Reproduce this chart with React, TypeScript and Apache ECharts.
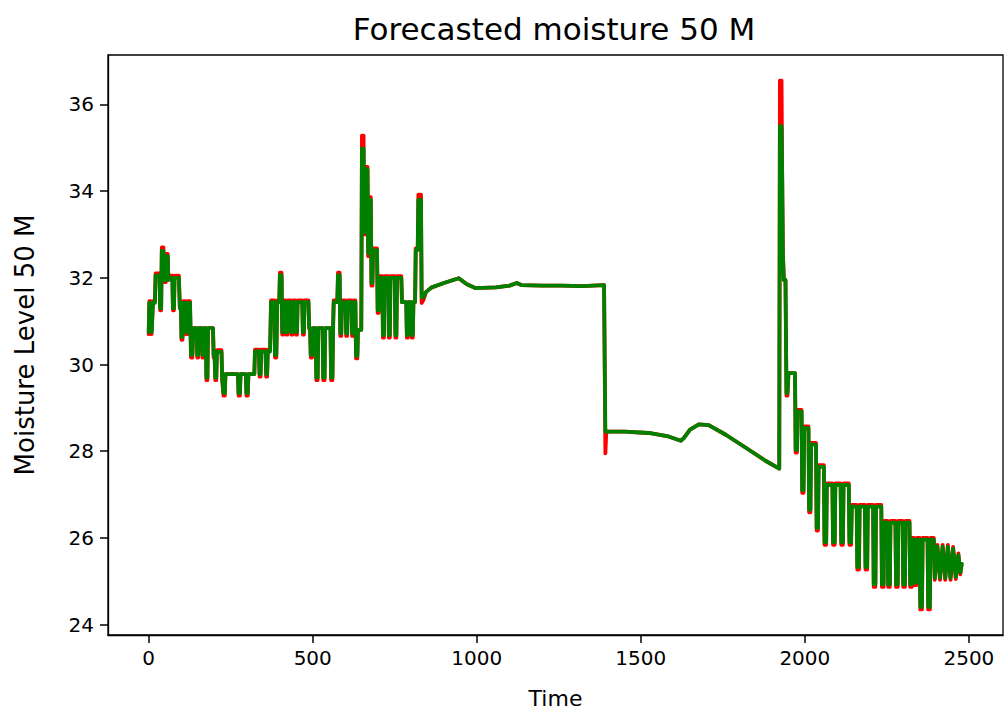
import React, { useEffect, useRef } from "react";
import * as echarts from "echarts";

const chartTitle = "Forecasted moisture 50 M";
const xName = "Time";
const yName = "Moisture Level 50 M";
const xTicks = [0, 500, 1000, 1500, 2000, 2500];
const yTicks = [24, 26, 28, 30, 32, 34, 36];

// actual values (red)
const actual: [number, number][] = [
  [0,30.7],[2,31.46],[7,31.46],[9,30.7],[11,30.7],[13,31.46],[19,31.46],[21,32.1],[33,32.1],[35,31.25],[38,31.25],[40,32.7],[45,32.7],[47,31.9],[52,31.9],[54,32.55],[58,32.55],[60,31.95],[66,32.05],[72,32.05],[74,31.25],[77,31.25],[79,32.05],[92,32.05],[95,31.3],[98,31.42],[100,30.57],[103,30.57],[105,31.46],[112,31.46],[114,30.7],[117,30.7],[119,31.46],[126,31.46],[129,30.16],[133,30.16],[136,30.84],[146,30.84],[148,30.16],[151,30.16],[153,30.84],[162,30.84],[164,30.16],[167,30.16],[169,30.84],[174,30.84],[176,29.64],[179,29.64],[181,30.84],[196,30.84],[198,30.16],[201,30.16],[203,29.64],[206,29.64],[208,30.33],[222,30.33],[224,29.64],[226,29.64],[228,29.28],[232,29.28],[234,29.78],[272,29.78],[274,29.28],[278,29.28],[280,29.78],[296,29.78],[298,29.28],[302,29.28],[304,29.78],[322,29.78],[324,30.34],[336,30.34],[338,29.72],[341,29.72],[343,30.34],[356,30.34],[358,29.72],[361,29.72],[363,30.34],[370,30.34],[373,31.48],[383,31.48],[385,30.16],[389,30.16],[392,31.48],[398,31.48],[400,32.12],[405,32.12],[407,30.69],[410,30.69],[412,31.48],[418,31.48],[420,30.69],[423,30.69],[425,31.48],[433,31.48],[435,30.69],[438,30.69],[440,31.48],[447,31.48],[449,30.69],[452,30.69],[454,31.48],[468,31.48],[470,30.69],[473,30.69],[475,31.48],[487,31.48],[489,30.84],[492,30.84],[494,30.16],[498,30.16],[500,30.84],[509,30.84],[511,29.64],[515,29.64],[517,30.84],[530,30.84],[532,29.64],[536,29.64],[538,30.84],[554,30.84],[556,29.64],[560,29.64],[562,30.84],[564,31.48],[575,31.48],[577,32.12],[582,32.12],[584,30.66],[587,30.66],[589,31.48],[600,31.48],[602,30.66],[605,30.66],[607,31.48],[618,31.48],[620,30.66],[623,30.66],[625,31.48],[630,31.48],[632,30.14],[636,30.14],[638,30.8],[648,30.8],[650,35.28],[655,35.28],[657,33.0],[660,33.0],[662,34.56],[667,34.56],[669,32.5],[671,32.5],[673,33.86],[677,33.86],[679,31.82],[682,31.82],[684,32.68],[696,32.68],[698,31.19],[701,31.19],[703,32.04],[712,32.04],[714,30.62],[717,30.62],[719,32.04],[730,32.04],[732,30.62],[735,30.62],[737,32.04],[750,32.04],[752,30.62],[755,30.62],[757,32.04],[770,32.04],[772,31.44],[785,31.44],[787,30.62],[790,30.62],[792,31.44],[800,31.44],[802,30.62],[805,30.62],[807,31.44],[812,31.44],[814,32.68],[820,32.68],[822,33.92],[830,33.92],[832,31.42],[838,31.5],[845,31.67],[863,31.78],[900,31.88],[945,31.99],[970,31.85],[997,31.76],[1058,31.78],[1100,31.82],[1122,31.88],[1137,31.83],[1200,31.82],[1259,31.82],[1320,31.81],[1388,31.83],[1392,27.95],[1395,28.45],[1450,28.45],[1524,28.42],[1580,28.35],[1622,28.24],[1631,28.3],[1650,28.5],[1677,28.62],[1707,28.6],[1759,28.38],[1820,28.08],[1880,27.78],[1922,27.6],[1924,36.55],[1929,36.55],[1931,34.3],[1933,32.62],[1936,31.95],[1941,31.95],[1944,29.28],[1947,29.28],[1950,29.8],[1970,29.8],[1972,27.97],[1976,27.97],[1978,28.95],[1990,28.95],[1992,27.04],[1996,27.04],[1998,28.57],[2011,28.57],[2013,26.59],[2017,26.59],[2019,28.19],[2034,28.19],[2036,26.17],[2040,26.17],[2042,27.68],[2058,27.68],[2060,25.84],[2065,25.84],[2067,27.26],[2084,27.26],[2086,25.84],[2091,25.84],[2093,27.26],[2109,27.26],[2111,25.84],[2116,25.84],[2118,27.26],[2134,27.26],[2136,25.84],[2141,25.84],[2143,26.76],[2158,26.76],[2160,25.27],[2165,25.27],[2167,26.76],[2183,26.76],[2185,25.27],[2190,25.27],[2192,26.76],[2208,26.76],[2210,24.87],[2215,24.87],[2217,26.76],[2233,26.76],[2235,24.87],[2240,24.87],[2242,26.39],[2252,26.39],[2254,24.87],[2259,24.87],[2261,26.39],[2276,26.39],[2278,24.87],[2283,24.87],[2285,26.39],[2298,26.39],[2300,24.87],[2305,24.87],[2307,26.39],[2319,26.39],[2321,24.87],[2326,24.87],[2328,26.0],[2333,26.0],[2335,24.91],[2340,24.91],[2342,26.0],[2350,26.0],[2352,24.35],[2357,24.35],[2359,26.0],[2374,26.0],[2376,24.35],[2381,24.35],[2383,26.0],[2393,26.0],[2396,25.03],[2404,25.84],[2412,25.03],[2420,25.84],[2428,25.03],[2436,25.84],[2444,25.03],[2452,25.79],[2460,25.05],[2468,25.64],[2474,25.16],[2478,25.4]
];

// forecast values (green)
const forecast: [number, number][] = [
  [0,30.75],[2,31.42],[7,31.42],[9,30.75],[11,30.75],[13,31.42],[19,31.42],[21,32.05],[33,32.05],[35,31.3],[38,31.3],[40,32.62],[45,32.62],[47,31.95],[52,31.95],[54,32.5],[58,32.5],[60,31.95],[66,32.0],[72,32.0],[74,31.3],[77,31.3],[79,32.0],[92,32.0],[95,31.3],[98,31.42],[100,30.63],[103,30.63],[105,31.42],[112,31.42],[114,30.75],[117,30.75],[119,31.42],[126,31.42],[129,30.22],[133,30.22],[136,30.84],[146,30.84],[148,30.22],[151,30.22],[153,30.84],[162,30.84],[164,30.22],[167,30.22],[169,30.84],[174,30.84],[176,29.7],[179,29.7],[181,30.84],[196,30.84],[198,30.22],[201,30.22],[203,29.7],[206,29.7],[208,30.29],[222,30.29],[224,29.7],[226,29.7],[228,29.34],[232,29.34],[234,29.78],[272,29.78],[274,29.34],[278,29.34],[280,29.78],[296,29.78],[298,29.34],[302,29.34],[304,29.78],[322,29.78],[324,30.3],[336,30.3],[338,29.78],[341,29.78],[343,30.3],[356,30.3],[358,29.78],[361,29.78],[363,30.3],[370,30.3],[373,31.44],[383,31.44],[385,30.22],[389,30.22],[392,31.44],[398,31.44],[400,32.06],[405,32.06],[407,30.75],[410,30.75],[412,31.44],[418,31.44],[420,30.75],[423,30.75],[425,31.44],[433,31.44],[435,30.75],[438,30.75],[440,31.44],[447,31.44],[449,30.75],[452,30.75],[454,31.44],[468,31.44],[470,30.75],[473,30.75],[475,31.44],[487,31.44],[489,30.84],[492,30.84],[494,30.22],[498,30.22],[500,30.84],[509,30.84],[511,29.7],[515,29.7],[517,30.84],[530,30.84],[532,29.7],[536,29.7],[538,30.84],[554,30.84],[556,29.7],[560,29.7],[562,30.84],[564,31.44],[575,31.44],[577,32.06],[582,32.06],[584,30.72],[587,30.72],[589,31.44],[600,31.44],[602,30.72],[605,30.72],[607,31.44],[618,31.44],[620,30.72],[623,30.72],[625,31.44],[630,31.44],[632,30.2],[636,30.2],[638,30.8],[648,30.8],[650,34.98],[655,34.98],[657,33.05],[660,33.05],[662,34.5],[667,34.5],[669,32.57],[671,32.57],[673,33.8],[677,33.8],[679,31.88],[682,31.88],[684,32.64],[696,32.64],[698,31.25],[701,31.25],[703,32.0],[712,32.0],[714,30.68],[717,30.68],[719,32.0],[730,32.0],[732,30.68],[735,30.68],[737,32.0],[750,32.0],[752,30.68],[755,30.68],[757,32.0],[770,32.0],[772,31.44],[785,31.44],[787,30.68],[790,30.68],[792,31.44],[800,31.44],[802,30.68],[805,30.68],[807,31.44],[812,31.44],[814,32.64],[820,32.64],[822,33.8],[830,33.8],[832,31.55],[838,31.55],[845,31.67],[863,31.78],[900,31.88],[945,31.99],[970,31.85],[997,31.76],[1058,31.78],[1100,31.82],[1122,31.88],[1137,31.83],[1200,31.82],[1259,31.82],[1320,31.81],[1388,31.83],[1392,28.45],[1450,28.45],[1524,28.42],[1580,28.35],[1622,28.24],[1631,28.3],[1650,28.5],[1677,28.62],[1707,28.6],[1759,28.38],[1820,28.08],[1880,27.78],[1922,27.6],[1924,35.5],[1929,35.5],[1931,34.3],[1933,32.57],[1936,31.95],[1941,31.95],[1944,29.34],[1947,29.34],[1950,29.8],[1970,29.8],[1972,28.03],[1976,28.03],[1978,28.91],[1990,28.91],[1992,27.1],[1996,27.1],[1998,28.53],[2011,28.53],[2013,26.65],[2017,26.65],[2019,28.15],[2034,28.15],[2036,26.23],[2040,26.23],[2042,27.64],[2058,27.64],[2060,25.9],[2065,25.9],[2067,27.22],[2084,27.22],[2086,25.9],[2091,25.9],[2093,27.22],[2109,27.22],[2111,25.9],[2116,25.9],[2118,27.22],[2134,27.22],[2136,25.9],[2141,25.9],[2143,26.72],[2158,26.72],[2160,25.33],[2165,25.33],[2167,26.72],[2183,26.72],[2185,25.33],[2190,25.33],[2192,26.72],[2208,26.72],[2210,24.93],[2215,24.93],[2217,26.72],[2233,26.72],[2235,24.93],[2240,24.93],[2242,26.35],[2252,26.35],[2254,24.93],[2259,24.93],[2261,26.35],[2276,26.35],[2278,24.93],[2283,24.93],[2285,26.35],[2298,26.35],[2300,24.93],[2305,24.93],[2307,26.35],[2319,26.35],[2321,24.93],[2326,24.93],[2328,25.96],[2333,25.96],[2335,24.97],[2340,24.97],[2342,25.96],[2350,25.96],[2352,24.41],[2357,24.41],[2359,25.96],[2374,25.96],[2376,24.41],[2381,24.41],[2383,25.96],[2393,25.96],[2396,25.08],[2404,25.8],[2412,25.08],[2420,25.8],[2428,25.08],[2436,25.8],[2444,25.08],[2452,25.75],[2460,25.1],[2468,25.6],[2474,25.2],[2478,25.4]
];

const FONT = "'DejaVu Sans', sans-serif";

export default function App() {
  const ref = useRef<HTMLDivElement>(null);
  useEffect(() => {
    const chart = echarts.init(ref.current!, null, { renderer: "svg" });
    chart.setOption({
      animation: false,
      backgroundColor: "#ffffff",
      graphic: [
        {
          type: "text",
          x: 554,
          y: 29,
          style: {
            text: chartTitle,
            align: "center",
            verticalAlign: "middle",
            fontFamily: FONT,
            fontSize: 31,
            fill: "#000",
          },
        },
      ],
      grid: {
        left: 108,
        right: 3,
        top: 55,
        bottom: 85,
        show: true,
        borderColor: "#000",
        borderWidth: 1.3,
        backgroundColor: "transparent",
      },
      xAxis: {
        type: "value",
        min: -124,
        max: 2604,
        name: xName,
        nameLocation: "middle",
        nameGap: 52,
        nameTextStyle: { fontFamily: FONT, fontSize: 22, color: "#000" },
        axisLine: { show: true, onZero: false, lineStyle: { color: "#000", width: 1.3 } },
        splitLine: { show: false },
        axisTick: {
          show: true,
          inside: false,
          customValues: xTicks,
          length: 8,
          lineStyle: { color: "#000", width: 1.5 },
        },
        axisLabel: {
          customValues: xTicks,
          formatter: (v: number) => String(v),
          margin: 13,
          fontFamily: FONT,
          fontSize: 20,
          color: "#000",
        },
      },
      yAxis: {
        type: "value",
        min: 23.76,
        max: 37.14,
        name: yName,
        nameLocation: "middle",
        nameGap: 70,
        nameTextStyle: { fontFamily: FONT, fontSize: 26, color: "#000" },
        axisLine: { show: true, onZero: false, lineStyle: { color: "#000", width: 1.3 } },
        splitLine: { show: false },
        axisTick: {
          show: true,
          inside: false,
          customValues: yTicks,
          length: 8,
          lineStyle: { color: "#000", width: 1.5 },
        },
        axisLabel: {
          customValues: yTicks,
          formatter: (v: number) => String(v),
          margin: 14,
          fontFamily: FONT,
          fontSize: 20,
          color: "#000",
        },
      },
      series: [
        {
          name: "Actual",
          type: "line",
          data: actual,
          showSymbol: false,
          symbol: "none",
          lineStyle: { color: "#ff0000", width: 3.8, join: "round", cap: "round" },
          z: 2,
        },
        {
          name: "Forecast",
          type: "line",
          data: forecast,
          showSymbol: false,
          symbol: "none",
          lineStyle: { color: "#008000", width: 3.8, join: "round", cap: "round" },
          z: 3,
        },
      ],
    });
    return () => chart.dispose();
  }, []);
  return (
    <div
      ref={ref}
      style={{ position: "fixed", left: 0, top: 0, width: 1006, height: 720 }}
    />
  );
}
